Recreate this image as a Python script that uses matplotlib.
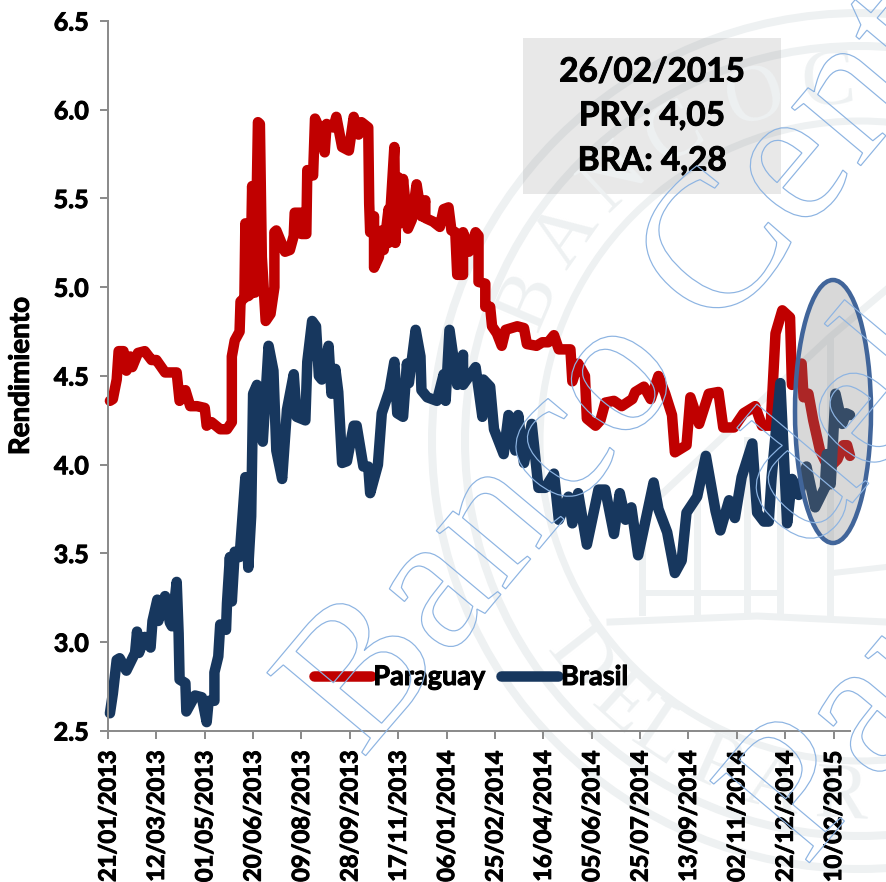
import numpy as np
from matplotlib import pyplot as plt
from matplotlib import patheffects as pe
from matplotlib.font_manager import FontProperties
from matplotlib.patches import Circle, Ellipse, PathPatch, Rectangle
from matplotlib.textpath import TextPath
from matplotlib.transforms import Affine2D

W, H = 886, 882

plt.rcParams['font.family'] = ['Lato', 'DejaVu Sans']

# days since 21/01/2013 and yield
pry_days = [2, 5, 9, 11, 16, 19, 23, 25, 31, 38, 45, 50, 59, 71, 74, 80, 85, 92, 100, 102, 107, 116, 123, 128, 128,
            131, 136, 137, 141, 142, 145, 147, 149, 152, 155, 157, 159, 163, 168, 172, 172, 174, 183, 188, 192, 193,
            199, 200, 205, 206, 212, 214, 219, 224, 226, 233, 236, 242, 249, 254, 259, 262, 269, 270, 271, 275, 275,
            280, 283, 285, 290, 290, 296, 297, 300, 302, 305, 310, 314, 319, 324, 328, 328, 336, 343, 347, 352, 355,
            359, 361, 367, 367, 373, 380, 383, 383, 390, 390, 395, 397, 402, 407, 411, 423, 430, 433, 443, 449, 455,
            461, 466, 478, 480, 486, 493, 495, 504, 509, 514, 523, 531, 542, 545, 554, 561, 569, 576, 583, 586, 598,
            602, 611, 621, 631, 636, 647, 657, 669, 676, 685, 690, 697, 705, 707, 717, 719, 724, 729, 736, 745, 754,
            760, 764, 767]
pry_vals = [4.36, 4.37, 4.48, 4.64, 4.64, 4.53, 4.61, 4.55, 4.63, 4.64, 4.59, 4.59, 4.52, 4.52, 4.36, 4.42, 4.33, 4.33,
            4.32, 4.22, 4.24, 4.20, 4.20, 4.24, 4.61, 4.70, 4.75, 4.92, 4.94, 5.36, 4.95, 4.96, 5.57, 4.97, 5.93, 5.92,
            5.17, 4.81, 4.85, 5.00, 5.31, 5.32, 5.20, 5.21, 5.29, 5.42, 5.42, 5.30, 5.30, 5.66, 5.63, 5.95, 5.89, 5.76,
            5.92, 5.90, 5.96, 5.79, 5.77, 5.96, 5.86, 5.93, 5.90, 5.47, 5.31, 5.40, 5.11, 5.17, 5.32, 5.21, 5.44, 5.25,
            5.79, 5.25, 5.62, 5.36, 5.61, 5.33, 5.38, 5.58, 5.40, 5.49, 5.39, 5.37, 5.34, 5.44, 5.45, 5.32, 5.31, 5.07,
            5.07, 5.31, 5.20, 5.31, 5.29, 5.03, 5.02, 4.89, 4.89, 4.78, 4.74, 4.67, 4.76, 4.78, 4.77, 4.68, 4.67, 4.69,
            4.69, 4.73, 4.65, 4.65, 4.47, 4.57, 4.50, 4.26, 4.22, 4.25, 4.35, 4.36, 4.33, 4.37, 4.41, 4.44, 4.37, 4.50,
            4.40, 4.28, 4.07, 4.11, 4.38, 4.23, 4.40, 4.41, 4.21, 4.21, 4.29, 4.33, 4.22, 4.22, 4.74, 4.87, 4.83, 4.45,
            4.57, 4.38, 4.40, 4.25, 4.08, 3.98, 4.03, 4.11, 4.11, 4.05]

bra_days = [2, 5, 9, 12, 19, 28, 30, 32, 38, 44, 46, 51, 52, 59, 64, 66, 71, 73, 74, 80, 81, 90, 97, 102, 104, 110,
            110, 114, 116, 122, 123, 126, 128, 131, 136, 142, 145, 148, 150, 154, 160, 166, 171, 174, 180, 185, 192,
            195, 204, 206, 211, 215, 218, 221, 228, 231, 235, 238, 242, 247, 254, 257, 264, 269, 271, 279, 283, 291,
            296, 299, 305, 309, 311, 318, 323, 324, 330, 340, 347, 349, 353, 361, 367, 367, 380, 387, 388, 395, 399,
            409, 414, 421, 424, 430, 438, 445, 452, 461, 466, 476, 480, 486, 495, 507, 514, 523, 529, 535, 541, 548,
            564, 569, 578, 586, 593, 598, 609, 618, 628, 633, 642, 648, 655, 666, 671, 678, 683, 686, 695, 702, 707,
            714, 722, 731, 741, 743, 747, 752, 759, 763, 767]
bra_vals = [2.60, 2.71, 2.90, 2.91, 2.84, 2.94, 3.06, 2.94, 3.03, 2.97, 3.12, 3.24, 3.12, 3.26, 3.11, 3.09, 3.34, 3.05,
            2.79, 2.77, 2.61, 2.70, 2.69, 2.55, 2.67, 2.67, 2.83, 2.92, 3.10, 3.07, 3.22, 3.48, 3.23, 3.51, 3.48, 3.93,
            3.42, 3.71, 4.40, 4.45, 4.13, 4.67, 4.53, 4.08, 3.92, 4.31, 4.51, 4.27, 4.25, 4.58, 4.81, 4.78, 4.50, 4.48,
            4.67, 4.40, 4.54, 4.41, 4.01, 4.02, 4.22, 4.22, 3.99, 3.99, 3.84, 4.00, 4.29, 4.42, 4.58, 4.29, 4.27, 4.57,
            4.46, 4.76, 4.61, 4.42, 4.38, 4.36, 4.51, 4.36, 4.76, 4.45, 4.62, 4.45, 4.55, 4.27, 4.48, 4.44, 4.20, 4.06,
            4.28, 4.08, 4.28, 4.01, 4.23, 3.87, 3.87, 3.95, 3.69, 3.82, 3.67, 3.84, 3.55, 3.86, 3.86, 3.61, 3.84, 3.69,
            3.76, 3.49, 3.90, 3.75, 3.62, 3.39, 3.46, 3.73, 3.82, 4.05, 3.74, 3.63, 3.80, 3.70, 3.93, 4.12, 3.73, 3.68,
            3.68, 3.93, 4.46, 3.67, 3.92, 3.83, 3.99, 3.76, 3.87, 4.06, 3.89, 4.40, 4.23, 4.29, 4.28]

tick_days = [0, 50, 100, 150, 200, 250, 300, 350, 400, 450, 500, 550, 600, 650, 700, 750]
tick_labels = ['21/01/2013', '12/03/2013', '01/05/2013', '20/06/2013', '09/08/2013', '28/09/2013',
               '17/11/2013', '06/01/2014', '25/02/2014', '16/04/2014', '05/06/2014', '25/07/2014',
               '13/09/2014', '02/11/2014', '22/12/2014', '10/02/2015']
y_ticks = [2.5, 3.0, 3.5, 4.0, 4.5, 5.0, 5.5, 6.0, 6.5]

RED = '#C00000'
BLUE = '#17375E'
AXIS = '#8C8C8C'
SEAL = '#EEF1F2'
WM = '#8DB4E2'
px = 72 / 100  # points per pixel at dpi 100

# the font has no heavy enough cut, a thin stroke makes up for it
heavy = [pe.withStroke(linewidth=0.7, foreground='black')]


def overlay(zorder):
    a = fig.add_axes([0, 0, 1, 1], zorder=zorder)
    a.set_xlim(0, W)
    a.set_ylim(H, 0)
    a.axis('off')
    a.patch.set_alpha(0)
    return a


# outlined watermark words, position is the start of the baseline in pixels
def outline_text(a, s, x, y):
    path = TextPath((0, 0), s, size=197, prop=FontProperties(family='Liberation Serif'))
    tr = Affine2D().rotate_deg(50).scale(1, -1).translate(x, y) + a.transData
    a.add_patch(PathPatch(path, transform=tr, fc='none', ec=WM, lw=1.2 * px))


fig = plt.figure(figsize=(W / 100, H / 100), dpi=100)

# seal behind everything
back = overlay(0)
cx, cy = 860, 441
for r, lw in [(428, 8), (395, 8), (320, 7)]:
    back.add_patch(Circle((cx, cy), r, fc='none', ec=SEAL, lw=lw * px))
for x0, top_y in [(642, 545), (697, 490), (747, 440), (780, 410), (830, 340)]:
    back.plot([x0, x0], [top_y, 612], color=SEAL, lw=7 * px)
back.plot([610, 757, 886], [622, 616, 622], color=SEAL, lw=7 * px)
back.plot([647, 777], [593, 593], color=SEAL, lw=6 * px)
back.plot([833, 886], [573, 567], color=SEAL, lw=6 * px)
back.plot([663, 830, 886], [493, 337, 290], color=SEAL, lw=7 * px)
for ch, t in [('B', -67), ('A', -55), ('N', -43), ('C', -31), ('O', -17), ('C', -5)]:
    a = np.radians(t)
    back.text(cx + 358 * np.sin(a), cy - 358 * np.cos(a), ch, rotation=-t, rotation_mode='anchor',
              ha='center', va='center', fontsize=58, family='Liberation Serif', color=SEAL)
for ch, t in [('D', -128), ('E', -138), ('L', -146), ('P', -156), ('A', -166), ('R', -177)]:
    a = np.radians(t)
    back.text(cx + 358 * np.sin(a), cy - 358 * np.cos(a), ch, rotation=-(t + 180), rotation_mode='anchor',
              ha='center', va='center', fontsize=58, family='Liberation Serif', color=SEAL)

# note box
back.add_patch(Rectangle((523, 38), 258, 156, fc='#808080', alpha=0.18, ec='none'))
for line, yy in [('26/02/2015', 72), ('PRY: 4,05', 116), ('BRA: 4,28', 161)]:
    back.text(652, yy, line, ha='center', va='center', fontsize=24, fontweight='bold', color='black',
              path_effects=heavy)

# main chart
ax = fig.add_axes([108 / W, 1 - 731 / H, 742 / W, 710 / H], zorder=1)
ax.patch.set_alpha(0)
ax.plot(pry_days, pry_vals, color=RED, lw=10.5 * px, label='Paraguay', solid_capstyle='round',
        solid_joinstyle='round', clip_on=False)
ax.plot(bra_days, bra_vals, color=BLUE, lw=10.5 * px, label='Brasil', solid_capstyle='round',
        solid_joinstyle='round', clip_on=False)
ax.set_xlim(0, 767)
ax.set_ylim(2.5, 6.5)
ax.set_xticks(tick_days)
ax.set_xticklabels(tick_labels, rotation=90, fontsize=17, fontweight='bold', path_effects=heavy)
ax.set_yticks(y_ticks)
ax.set_yticklabels(['%.1f' % v for v in y_ticks], fontsize=18, fontweight='bold', path_effects=heavy)
ax.set_ylabel('Rendimiento', fontsize=20, fontweight='bold', path_effects=heavy)
ax.yaxis.set_label_coords(-0.10, 0.5)
ax.tick_params(axis='both', color=AXIS, width=2 * px, length=8 * px)
ax.tick_params(axis='x', pad=8)
ax.tick_params(axis='y', pad=8)
ax.spines['top'].set_visible(False)
ax.spines['right'].set_visible(False)
for s in ['left', 'bottom']:
    ax.spines[s].set_color(AXIS)
    ax.spines[s].set_linewidth(2 * px)
leg = ax.legend(loc='center', bbox_to_anchor=(471 / W, 1 - 677 / H), bbox_transform=fig.transFigure, ncol=2,
                frameon=False, handlelength=2.1, handletextpad=0.1, columnspacing=0.6,
                prop={'size': 19.5, 'weight': 'bold'})
for t in leg.get_texts():
    t.set_path_effects(heavy)

# ellipse and outlined words on top
top = overlay(2)
top.add_patch(Ellipse((833, 411.5), 76, 263, fc='#7F7F7F', alpha=0.3, ec='none'))
top.add_patch(Ellipse((833, 411.5), 76, 263, fc='none', ec='#41659A', lw=4.5 * px))
outline_text(top, 'Banco Central', 362, 760)
outline_text(top, 'del', 807, 557)
outline_text(top, 'Paraguay', 805, 868)

fig.savefig('out.png', dpi=100)
